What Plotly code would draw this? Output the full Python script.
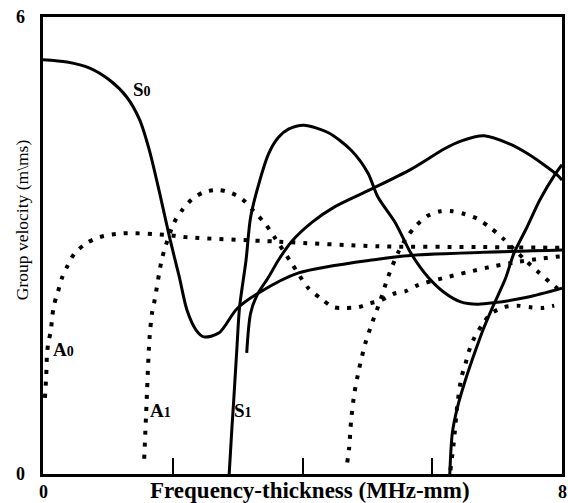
import plotly.graph_objects as go

# Lamb-wave group-velocity dispersion curves (frequency-thickness in MHz-mm, velocity in m/ms)

# symmetric modes (solid)
s0_x = [0.0, 0.37, 0.72, 1.03, 1.29, 1.49, 1.64, 1.80, 1.95, 2.10, 2.22, 2.36, 2.48, 2.71, 2.99, 3.33, 3.94, 5.16, 5.67, 8.0]
s0_y = [5.44, 5.41, 5.33, 5.17, 4.95, 4.65, 4.25, 3.68, 3.11, 2.59, 2.15, 1.89, 1.80, 1.85, 2.17, 2.38, 2.64, 2.82, 2.87, 2.94]

s1_x = [2.87, 2.91, 2.94, 2.99, 3.03, 3.13, 3.20, 3.33, 3.48, 3.63, 3.79, 4.02, 4.40, 4.75, 5.01, 5.16, 5.43, 5.67, 5.93, 6.19, 6.44, 6.70, 6.96, 7.46, 8.0]
s1_y = [0.0, 0.58, 0.97, 1.67, 2.19, 2.81, 3.37, 3.82, 4.21, 4.42, 4.53, 4.58, 4.48, 4.25, 3.95, 3.64, 3.30, 2.90, 2.59, 2.38, 2.26, 2.23, 2.25, 2.32, 2.44]

s2_x = [3.14, 3.20, 3.30, 3.48, 3.63, 3.83, 4.14, 4.50, 5.06, 5.67, 6.19, 6.44, 6.80, 7.20, 7.46, 7.72, 7.92, 8.0]
s2_y = [1.59, 2.11, 2.35, 2.59, 2.81, 3.05, 3.30, 3.51, 3.74, 4.00, 4.27, 4.37, 4.44, 4.33, 4.21, 4.06, 3.93, 3.86]

s3_x = [6.27, 6.31, 6.39, 6.51, 6.67, 6.80, 6.93, 7.13, 7.26, 7.46, 7.66, 7.89, 8.0]
s3_y = [0.0, 0.54, 0.88, 1.23, 1.63, 1.93, 2.19, 2.57, 2.90, 3.24, 3.60, 3.93, 4.06]

# antisymmetric modes (dotted)
a0_x = [0.03, 0.05, 0.06, 0.08, 0.12, 0.14, 0.17, 0.23, 0.29, 0.37, 0.49, 0.67, 0.87, 1.23, 1.90, 2.20, 3.63, 5.16, 6.70, 8.0]
a0_y = [1.00, 1.30, 1.54, 1.72, 1.87, 2.05, 2.22, 2.39, 2.57, 2.72, 2.90, 3.03, 3.11, 3.16, 3.14, 3.11, 3.05, 2.99, 2.98, 2.97]

a1_x = [1.56, 1.59, 1.64, 1.68, 1.72, 1.82, 1.87, 2.02, 2.15, 2.30, 2.48, 2.70, 2.90, 3.07, 3.25, 3.43, 3.56, 3.83, 4.09, 4.29, 4.48, 4.66, 4.86, 5.04, 5.21, 5.42, 5.59, 5.78, 6.16, 6.54, 6.96, 7.28, 7.69, 8.0]
a1_y = [0.20, 0.80, 1.76, 2.11, 2.28, 2.77, 2.94, 3.30, 3.47, 3.61, 3.70, 3.73, 3.69, 3.61, 3.45, 3.28, 3.12, 2.77, 2.44, 2.30, 2.19, 2.18, 2.19, 2.24, 2.28, 2.37, 2.40, 2.48, 2.57, 2.65, 2.73, 2.78, 2.83, 2.86]

a2_x = [4.69, 4.72, 4.75, 4.80, 4.87, 4.97, 5.08, 5.20, 5.32, 5.47, 5.60, 5.75, 5.93, 6.13, 6.31, 6.51, 6.70, 6.90, 7.08, 7.43, 7.65, 7.82, 8.0]
a2_y = [0.15, 0.35, 0.71, 1.06, 1.37, 1.72, 2.00, 2.28, 2.59, 2.90, 3.10, 3.26, 3.39, 3.45, 3.45, 3.41, 3.35, 3.23, 3.10, 2.81, 2.64, 2.51, 2.39]

a3_x = [6.28, 6.33, 6.39, 6.45, 6.51, 6.56, 6.65, 6.77, 6.91, 7.11, 7.31, 7.51, 7.69, 7.88]
a3_y = [0.05, 0.40, 0.93, 1.27, 1.44, 1.60, 1.79, 1.96, 2.11, 2.19, 2.21, 2.19, 2.18, 2.21]

mode_names = ["S", "A", "A", "S"]
mode_orders = ["0", "0", "1", "1"]
label_x = [1.52, 0.31, 1.81, 3.08]
label_y = [5.05, 1.64, 0.83, 0.83]

x_tick_vals = [0, 8]
y_tick_vals = [0, 6]

SERIF = "Liberation Serif"

fig = go.Figure()

solid_modes = [(s0_x, s0_y), (s1_x, s1_y), (s2_x, s2_y), (s3_x, s3_y)]
dotted_modes = [(a0_x, a0_y), (a1_x, a1_y), (a2_x, a2_y), (a3_x, a3_y)]

for xs, ys in solid_modes:
    fig.add_trace(go.Scatter(
        x=xs, y=ys, mode="lines",
        line=dict(color="black", width=3, shape="spline", smoothing=0.8),
        hoverinfo="skip", showlegend=False,
    ))

for xs, ys in dotted_modes:
    fig.add_trace(go.Scatter(
        x=xs, y=ys, mode="lines",
        line=dict(color="black", width=4, dash="4px,8px", shape="spline", smoothing=0.8),
        hoverinfo="skip", showlegend=False,
    ))

# mode labels: letter followed by a slightly smaller order digit
for name, order, lx, ly in zip(mode_names, mode_orders, label_x, label_y):
    fig.add_annotation(
        x=lx, y=ly, xref="x", yref="y",
        text=f"{name}<span style='font-size:14px'>{order}</span>",
        showarrow=False,
        font=dict(family=SERIF, size=19, color="black", weight="bold"),
        xanchor="center", yanchor="middle",
    )

# tick labels at the axis ends
for v in x_tick_vals:
    fig.add_annotation(
        x=v, y=-0.039, xref="x", yref="paper", text=str(v), showarrow=False,
        font=dict(family=SERIF, size=18, color="black", weight="bold"),
        xanchor="center", yanchor="middle",
    )
for v in y_tick_vals:
    fig.add_annotation(
        x=-0.044, y=v, xref="paper", yref="y", text=str(v), showarrow=False,
        font=dict(family=SERIF, size=18, color="black", weight="bold"),
        xanchor="center", yanchor="middle",
    )

# axis titles
fig.add_annotation(
    x=0.514, y=-0.036, xref="paper", yref="paper",
    text="Frequency-thickness (MHz-mm)", showarrow=False,
    font=dict(family=SERIF, size=23, color="black", weight="bold"),
    xanchor="center", yanchor="middle",
)
fig.add_annotation(
    x=-0.040, y=0.556, xref="paper", yref="paper",
    text="Group velocity (m\\ms)", showarrow=False, textangle=-90,
    font=dict(family=SERIF, size=17.5, color="black"),
    xanchor="center", yanchor="middle",
)

fig.update_xaxes(
    range=[0, 8], tickvals=[2, 4, 6], showticklabels=False,
    ticks="inside", ticklen=16, tickwidth=2, tickcolor="black",
    showline=True, linecolor="black", linewidth=3, mirror=True,
    showgrid=False, zeroline=False,
)
fig.update_yaxes(
    range=[0, 6], showticklabels=False, ticks="",
    showline=True, linecolor="black", linewidth=3, mirror=True,
    showgrid=False, zeroline=False,
)

fig.update_layout(
    width=568, height=503,
    margin=dict(l=43, r=3, t=17, b=29),
    paper_bgcolor="white", plot_bgcolor="white",
)

fig.write_html("out.html")
